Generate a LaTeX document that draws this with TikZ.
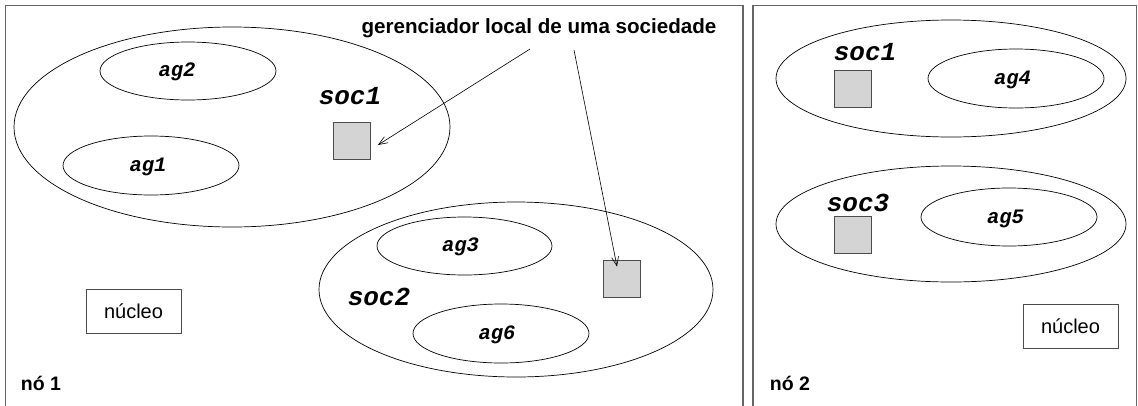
\documentclass[tikz,border=0pt]{standalone}
\usepackage{fontspec}
\setmainfont{Liberation Sans}
\newfontfamily\cour{Liberation Mono}
\usetikzlibrary{shapes.geometric,arrows.meta}
\begin{document}
\begin{tikzpicture}[x=1pt,y=-1pt,
  frame/.style={draw=black!60,line width=1.1pt},
  ell/.style={draw,ellipse,line width=0.7pt,inner sep=0pt},
  mgr/.style={draw=black!70,fill=black!17,line width=0.8pt,minimum width=37pt,minimum height=37pt,inner sep=0pt},
  agt/.style={font=\cour\bfseries\itshape\fontsize{20.5}{24}\selectfont,inner sep=0pt},
  soct/.style={font=\cour\bfseries\itshape\fontsize{26}{30}\selectfont,inner sep=0pt},
  nuc/.style={draw=black!70,line width=0.8pt,minimum width=95pt,minimum height=44pt,font=\fontsize{20}{24}\selectfont,inner sep=0pt},
  lab/.style={font=\bfseries\fontsize{19.5}{23}\selectfont,inner sep=0pt},
  glab/.style={font=\bfseries\fontsize{20.6}{24}\selectfont,inner sep=0pt},
  arr/.style={-{Straight Barb[length=9pt,width=7pt]},line width=0.6pt}]
\useasboundingbox (0,0) rectangle (1138,405);
% frames
\draw[frame] (5.5,410) -- (5.5,5.5) -- (743,5.5) -- (743,410);
\draw[frame] (753,410) -- (753,5.5) -- (1136.5,5.5) -- (1136.5,410);
% node 1
\node[ell,minimum width=436pt,minimum height=200pt] (s1) at (232,127) {};
\node[ell,minimum width=176pt,minimum height=58pt] (e2) at (188,71) {};
\node[agt] (t2) at (177,72) {ag2};
\node[ell,minimum width=176pt,minimum height=59pt] (e1) at (151,165.5) {};
\node[agt] (t1) at (148,167) {ag1};
\node[soct] (l1) at (350,96) {soc1};
\node[mgr] (m1) at (352,140.5) {};
\node[ell,minimum width=394pt,minimum height=175pt] (s2) at (516,289.5) {};
\node[ell,minimum width=175pt,minimum height=58pt] (e3) at (464.5,246) {};
\node[agt] (t3) at (460.5,247) {ag3};
\node[ell,minimum width=176pt,minimum height=59pt] (e6) at (501,333.5) {};
\node[agt] (t6) at (497,335) {ag6};
\node[soct] (l2) at (379,297) {soc2};
\node[mgr] (m2) at (621.5,278.5) {};
\node[nuc] (n1) at (133.5,311) {núcleo};
\node[lab] (nd1) at (41,383) {nó 1};
\node[glab] (g) at (539,28) {gerenciador local de uma sociedade};
\coordinate (g1) at (530,49);
\coordinate (g2) at (574,50);
\draw[arr] (g1) -- ([xshift=7pt,yshift=-4.5pt]m1.east);
\draw[arr] (g2) -- ([xshift=-4.5pt,yshift=-7pt]m2.north);
% node 2
\node[ell,minimum width=350pt,minimum height=117pt] (s3) at (951,78.5) {};
\node[ell,minimum width=176pt,minimum height=59pt] (e4) at (1016,78.5) {};
\node[agt] (t4) at (1012.5,80) {ag4};
\node[soct] (l3) at (865,52) {soc1};
\node[mgr] (m3) at (852.5,89) {};
\node[ell,minimum width=350pt,minimum height=116pt] (s4) at (951,224) {};
\node[ell,minimum width=176pt,minimum height=58pt] (e5) at (1009,217) {};
\node[agt] (t5) at (1005.5,218.5) {ag5};
\node[soct] (l4) at (858,203) {soc3};
\node[mgr] (m4) at (852.5,235) {};
\node[nuc] (n2) at (1070.5,326) {núcleo};
\node[lab] (nd2) at (790,383) {nó 2};
\end{tikzpicture}
\end{document}
